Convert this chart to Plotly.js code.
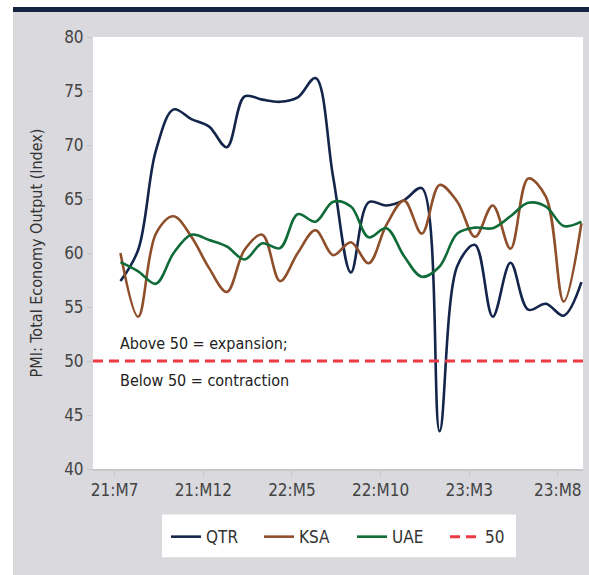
<!DOCTYPE html>
<html>
<head>
<meta charset="utf-8">
<script src="https://cdn.plot.ly/plotly-3.0.1.min.js"></script>
<style>
  html, body { margin: 0; padding: 0; background: #ffffff; }
  #topbar { position: absolute; left: 13px; top: 7px; width: 576px; height: 5px; background: #14233f; }
  #chart { position: absolute; left: 13px; top: 12px; width: 576px; height: 563px; }
</style>
</head>
<body>
<div id="topbar"></div>
<div id="chart"></div>
<script>
// Month labels (21:M7 .. 23:M9)
const months = ["21:M7","21:M8","21:M9","21:M10","21:M11","21:M12",
  "22:M1","22:M2","22:M3","22:M4","22:M5","22:M6","22:M7","22:M8","22:M9","22:M10","22:M11","22:M12",
  "23:M1","23:M2","23:M3","23:M4","23:M5","23:M6","23:M7","23:M8","23:M9"];

const qtr = [57.4, 60.3, 69.5, 73.3, 72.4, 71.7, 69.8, 74.5, 74.2, 74.0, 74.4, 76.2, 67.0, 58.2,
  64.7, 64.4, 64.9, 66.0, 43.5, 58.8, 60.75, 54.1, 59.1, 54.75, 55.3, 54.2, 57.3];
const ksa = [60.0, 54.1, 61.8, 63.4, 61.5, 58.6, 56.4, 60.3, 61.7, 57.4, 60.0, 62.1, 59.8, 61.0,
  59.05, 62.6, 64.85, 61.8, 66.3, 64.75, 61.5, 64.4, 60.4, 66.9, 65.2, 55.5, 62.75];
const uae = [59.15, 58.3, 57.15, 60.0, 61.7, 61.2, 60.6, 59.4, 60.9, 60.45, 63.6, 62.9, 64.75, 64.3,
  61.45, 62.3, 59.7, 57.8, 58.75, 61.8, 62.35, 62.3, 63.4, 64.65, 64.3, 62.5, 62.9];
const threshold = 50;

const tickLabels = ["21:M7","21:M12","22:M5","22:M10","23:M3","23:M8"];
const seriesNames = ["QTR","KSA","UAE"];
const seriesColors = ["#13254a","#8e4f2a","#0f6b37"];

const FONT = "'Liberation Sans Narrow', 'DejaVu Sans Condensed', 'Roboto', sans-serif";
const xIdx = months.map((m, i) => i);
const tickIdx = tickLabels.map(t => months.indexOf(t) - 0.33);

const traces = [qtr, ksa, uae].map((vals, k) => ({
  type: "scatter",
  mode: "lines",
  name: seriesNames[k],
  x: xIdx,
  y: vals,
  line: { color: seriesColors[k], width: 2.6, shape: "spline", smoothing: 1 },
  hoverinfo: "skip"
}));

const layout = {
  width: 576,
  height: 563,
  margin: { l: 80, r: 6, t: 24.5, b: 105.5 },
  paper_bgcolor: "#d9d9de",
  plot_bgcolor: "#ffffff",
  font: { family: FONT, size: 17, color: "#444444" },
  showlegend: true,
  legend: {
    orientation: "h",
    x: 0.149, xanchor: "left",
    y: -0.116, yanchor: "top",
    bgcolor: "rgba(0,0,0,0)",
    borderwidth: 0,
    font: { family: FONT, size: 17, color: "#333333" },
    entrywidth: 48,
    itemwidth: 30
  },
  xaxis: {
    range: [-1.55, 26.09],
    tickmode: "array",
    tickvals: tickIdx,
    ticktext: tickLabels,
    showgrid: false,
    zeroline: false,
    showline: true,
    linecolor: "#c6c6cb",
    linewidth: 2,
    ticks: "outside",
    ticklen: 5,
    tickwidth: 1,
    tickcolor: "#c6c6cb",
    tickfont: { family: FONT, size: 17, color: "#444444" }
  },
  yaxis: {
    range: [40, 80],
    dtick: 5,
    showgrid: false,
    zeroline: false,
    showline: false,
    ticks: "outside",
    ticklen: 5,
    tickcolor: "#c6c6cb",
    tickfont: { family: FONT, size: 17, color: "#444444" },
    title: { text: "PMI: Total Economy Output (Index)", standoff: 17,
             font: { family: FONT, size: 16, color: "#333333" } }
  },
  shapes: [
    {
      type: "rect",
      xref: "paper", yref: "paper",
      x0: 0.1408, x1: 0.8633, y0: -0.2044, y1: -0.1051,
      fillcolor: "#ffffff",
      line: { width: 0 },
      layer: "below"
    },
    {
      type: "line",
      xref: "paper", x0: 0, x1: 1,
      yref: "y", y0: threshold, y1: threshold,
      line: { color: "#ee3a43", width: 3, dash: "10px,6px" },
      showlegend: true,
      name: "50",
      layer: "above"
    }
  ],
  annotations: [
    { xref: "paper", yref: "y", x: 0.052, y: 51.6, xanchor: "left", yanchor: "middle",
      text: "Above 50 = expansion;", showarrow: false,
      font: { family: FONT, size: 16, color: "#222222" } },
    { xref: "paper", yref: "y", x: 0.052, y: 48.2, xanchor: "left", yanchor: "middle",
      text: "Below 50 = contraction", showarrow: false,
      font: { family: FONT, size: 16, color: "#222222" } }
  ]
};

Plotly.newPlot("chart", traces, layout, { displayModeBar: false, staticPlot: true });
</script>
</body>
</html>
